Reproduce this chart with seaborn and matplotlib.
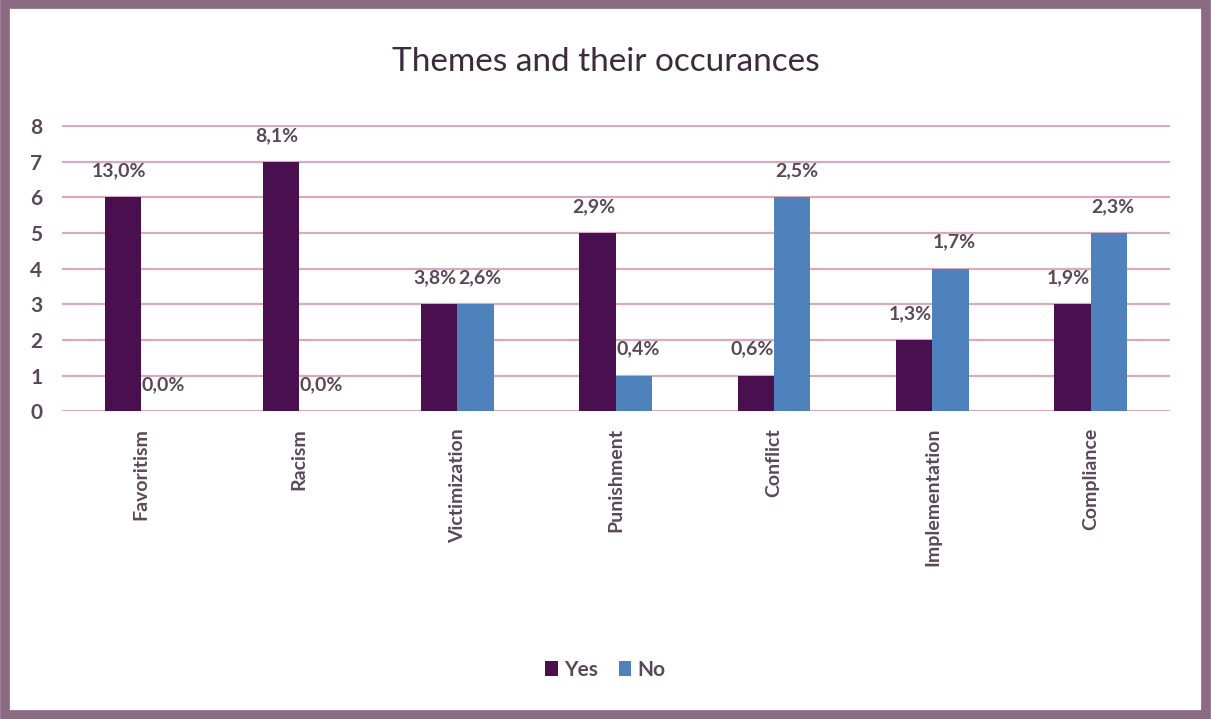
import matplotlib
matplotlib.use("Agg")
import matplotlib.pyplot as plt
import seaborn as sns
import pandas as pd
from matplotlib.patches import Rectangle

categories = ["Favoritism", "Racism", "Victimization", "Punishment", "Conflict", "Implementation", "Compliance"]
yes_values = [6, 7, 3, 5, 1, 2, 3]
no_values = [0, 0, 3, 1, 6, 4, 5]
yes_labels = ["13,0%", "8,1%", "3,8%", "2,9%", "0,6%", "1,3%", "1,9%"]
no_labels = ["0,0%", "0,0%", "2,6%", "0,4%", "2,5%", "1,7%", "2,3%"]
series = ["Yes", "No"]
y_ticks = [0, 1, 2, 3, 4, 5, 6, 7, 8]

df = pd.DataFrame({
    "Theme": categories * 2,
    "Count": yes_values + no_values,
    "Series": ["Yes"] * len(categories) + ["No"] * len(categories),
    "Label": yes_labels + no_labels,
})

sns.set_theme(style="white")
plt.rcParams["font.family"] = ["Lato", "DejaVu Sans"]

text_col = "#5a4858"
colors = {"Yes": "#4a0f4e", "No": "#4f81bd"}

fig = plt.figure(figsize=(12.11, 7.19), dpi=100)
fig.patch.set_facecolor("white")
ax = fig.add_axes([0.051, 0.428, 0.915, 0.398])

sns.barplot(data=df, x="Theme", y="Count", hue="Series", hue_order=series,
            palette=colors, width=0.46, gap=0.0, ax=ax, legend=True,
            saturation=1, edgecolor="none")

ax.set_ylim(0, 8.03)
ax.set_yticks(y_ticks)
ax.set_yticklabels([str(v) for v in y_ticks], fontweight="bold", fontsize=15, color=text_col)
ax.set_xticks(range(len(categories)))
ax.set_xticklabels(categories, rotation=90, fontweight="bold", fontsize=14, color=text_col,
                   va="top", ha="center")
ax.yaxis.grid(True, color="#d9a9bf", linewidth=1.6)
ax.set_axisbelow(True)
for s in ax.spines.values():
    s.set_visible(False)
ax.set_xlabel("")
ax.set_ylabel("")
ax.tick_params(axis="y", length=0, pad=14)
ax.tick_params(axis="x", length=0, pad=12)

nudges = {"Yes": -3, "No": 3}
for container, s in zip(ax.containers, series):
    labs = df[df["Series"] == s]["Label"].tolist()
    for bar, lab in zip(container, labs):
        ax.annotate(lab, (bar.get_x() + bar.get_width() / 2, bar.get_height()),
                    xytext=(nudges[s], 13), textcoords="offset points", ha="center", va="bottom",
                    fontsize=14, fontweight="bold", color=text_col)

leg = ax.legend(loc="center", ncol=2, frameon=False, fontsize=15, handlelength=0.6,
                handleheight=0.7, handletextpad=0.3, columnspacing=1.0)
leg.set_bbox_to_anchor((0.5, 1 - 670 / 719), transform=fig.transFigure)
for t in leg.get_texts():
    t.set_color(text_col)
    t.set_fontweight("bold")

fig.text(0.5, 1 - 62 / 719, "Themes and their occurances", ha="center", va="center",
         fontsize=24, color="#3d2a3d")

fig.patches.append(Rectangle((0.004, 0.006), 0.992, 0.988, transform=fig.transFigure,
                             fill=False, edgecolor="#8c6a84", linewidth=7))

fig.savefig("out.png", dpi=100, facecolor="white")
